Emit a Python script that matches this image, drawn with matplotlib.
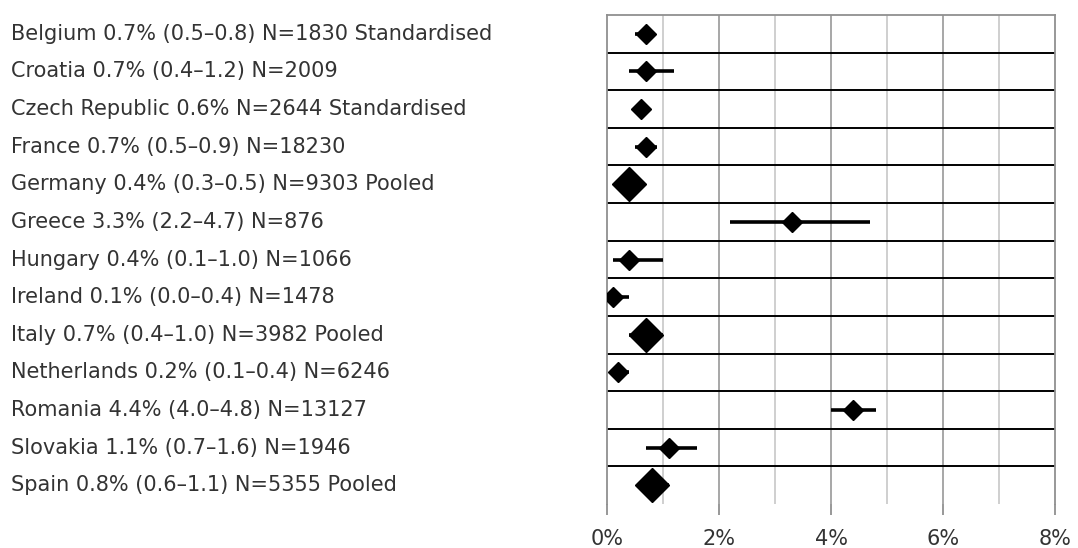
import matplotlib
matplotlib.use("Agg")
import matplotlib.pyplot as plt
import matplotlib.transforms as mtransforms
from matplotlib.ticker import FuncFormatter, MultipleLocator

countries = ["Belgium", "Croatia", "Czech Republic", "France", "Germany", "Greece",
             "Hungary", "Ireland", "Italy", "Netherlands", "Romania", "Slovakia", "Spain"]
estimate = [0.7, 0.7, 0.6, 0.7, 0.4, 3.3, 0.4, 0.1, 0.7, 0.2, 4.4, 1.1, 0.8]
lower = [0.5, 0.4, None, 0.5, 0.3, 2.2, 0.1, 0.0, 0.4, 0.1, 4.0, 0.7, 0.6]
upper = [0.8, 1.2, None, 0.9, 0.5, 4.7, 1.0, 0.4, 1.0, 0.4, 4.8, 1.6, 1.1]
sample_n = [1830, 2009, 2644, 18230, 9303, 876, 1066, 1478, 3982, 6246, 13127, 1946, 5355]
method = ["Standardised", "", "Standardised", "", "Pooled", "", "", "", "Pooled", "", "", "", "Pooled"]

fig = plt.figure(figsize=(10.78, 5.48), dpi=100)
ax = fig.add_axes([607 / 1078, 1 - 504 / 548, 448 / 1078, 489 / 548])

n = len(countries)
ax.set_xlim(0, 8)
ax.set_ylim(n, 0)

# grid lines
for x in range(1, 8):
    ax.axvline(x, color="#a0a0a0" if x % 2 == 0 else "#cccccc", lw=1.3, zorder=1)
for i in range(1, n):
    ax.axhline(i, color="black", lw=1.4, zorder=1)

for i in range(n):
    y = i + 0.5
    if lower[i] is not None:
        ax.plot([lower[i], upper[i]], [y, y], color="black", lw=2.6, solid_capstyle="butt", zorder=2)
    size = 17 if method[i] == "Pooled" else 10.5
    ax.plot(estimate[i], y, marker="D", color="black", ms=size, zorder=3)

    txt = f"{countries[i]} {estimate[i]}%"
    if lower[i] is not None:
        txt += f" ({lower[i]}\u2013{upper[i]})"
    txt += f" N={sample_n[i]}"
    if method[i]:
        txt += f" {method[i]}"
    trans = mtransforms.blended_transform_factory(fig.transFigure, ax.transData)
    ax.text(11 / 1078, y, txt, transform=trans, ha="left", va="center",
            fontsize=15, color="#333333", family="DejaVu Sans")

for s in ["left", "right", "top"]:
    ax.spines[s].set_color("#909090")
    ax.spines[s].set_linewidth(1.3)
ax.spines["bottom"].set_visible(False)

ax.xaxis.set_major_locator(MultipleLocator(2))
ax.xaxis.set_major_formatter(FuncFormatter(lambda v, p: f"{v:.0f}%"))
ax.tick_params(axis="x", length=8, width=1.3, color="#909090", labelsize=15,
               labelcolor="#333333", pad=10)
ax.set_yticks([])

fig.savefig("out.png", dpi=100)
